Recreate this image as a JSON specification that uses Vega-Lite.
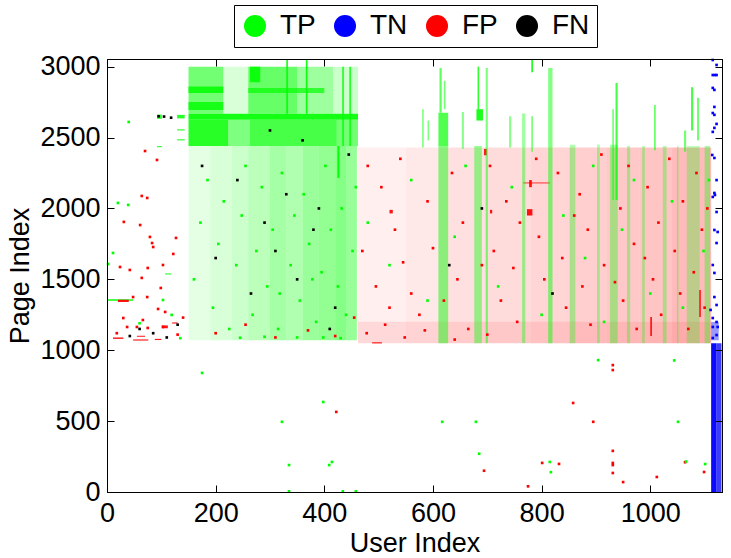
{
  "$schema": "https://vega.github.io/schema/vega-lite/v6.json",
  "width": 615,
  "height": 433,
  "autosize": {"type": "none"},
  "padding": {"left": 107, "top": 59, "right": 9, "bottom": 66},
  "datasets": {
    "cells": [
      {"c": "TP", "u1": 150, "u2": 462, "p1": 2625, "p2": 2668, "d": 0.9},
      {"c": "TP", "u1": 150, "u2": 223, "p1": 2440, "p2": 2625, "d": 0.8},
      {"c": "TP", "u1": 223, "u2": 263, "p1": 2440, "p2": 2625, "d": 0.4},
      {"c": "TP", "u1": 263, "u2": 423, "p1": 2440, "p2": 2625, "d": 0.65},
      {"c": "TP", "u1": 423, "u2": 462, "p1": 2440, "p2": 2625, "d": 0.45},
      {"c": "TP", "u1": 150, "u2": 214, "p1": 2668, "p2": 3000, "d": 0.45},
      {"c": "TP", "u1": 150, "u2": 214, "p1": 2815, "p2": 2860, "d": 0.8},
      {"c": "TP", "u1": 150, "u2": 214, "p1": 2695, "p2": 2750, "d": 0.75},
      {"c": "TP", "u1": 214, "u2": 260, "p1": 2668, "p2": 3000, "d": 0.08},
      {"c": "TP", "u1": 260, "u2": 350, "p1": 2668, "p2": 3000, "d": 0.5},
      {"c": "TP", "u1": 263, "u2": 282, "p1": 2890, "p2": 3000, "d": 0.85},
      {"c": "TP", "u1": 260, "u2": 400, "p1": 2815, "p2": 2850, "d": 0.6},
      {"c": "TP", "u1": 350, "u2": 416, "p1": 2668, "p2": 3000, "d": 0.28},
      {"c": "TP", "u1": 416, "u2": 462, "p1": 2668, "p2": 3000, "d": 0.12},
      {"c": "TP", "u1": 330, "u2": 333, "p1": 2668, "p2": 3054, "d": 0.9},
      {"c": "TP", "u1": 366, "u2": 369, "p1": 2668, "p2": 3054, "d": 0.9},
      {"c": "TP", "u1": 433, "u2": 436, "p1": 2440, "p2": 3000, "d": 0.8},
      {"c": "TP", "u1": 446, "u2": 449, "p1": 2440, "p2": 3000, "d": 0.8},
      {"c": "TP", "u1": 424, "u2": 428, "p1": 2215, "p2": 2440, "d": 0.9},
      {"c": "TP", "u1": 150, "u2": 190, "p1": 1070, "p2": 2440, "d": 0.05},
      {"c": "TP", "u1": 190, "u2": 230, "p1": 1070, "p2": 2440, "d": 0.08},
      {"c": "TP", "u1": 230, "u2": 260, "p1": 1070, "p2": 2440, "d": 0.12},
      {"c": "TP", "u1": 260, "u2": 300, "p1": 1070, "p2": 2440, "d": 0.17},
      {"c": "TP", "u1": 300, "u2": 330, "p1": 1070, "p2": 2440, "d": 0.25},
      {"c": "TP", "u1": 330, "u2": 360, "p1": 1070, "p2": 2440, "d": 0.21},
      {"c": "TP", "u1": 360, "u2": 390, "p1": 1070, "p2": 2440, "d": 0.29},
      {"c": "TP", "u1": 390, "u2": 420, "p1": 1070, "p2": 2440, "d": 0.32},
      {"c": "TP", "u1": 420, "u2": 440, "p1": 1070, "p2": 2440, "d": 0.37},
      {"c": "TP", "u1": 440, "u2": 460, "p1": 1070, "p2": 2440, "d": 0.3},
      {"c": "TP", "u1": 92, "u2": 101, "p1": 2632, "p2": 2662, "d": 0.8},
      {"c": "TP", "u1": 129, "u2": 143, "p1": 2635, "p2": 2660, "d": 0.8},
      {"c": "TP", "u1": 129, "u2": 143, "p1": 2550, "p2": 2558, "d": 0.8},
      {"c": "TP", "u1": 129, "u2": 143, "p1": 2480, "p2": 2488, "d": 0.8},
      {"c": "TP", "u1": 92, "u2": 101, "p1": 2432, "p2": 2440, "d": 0.8},
      {"c": "TP", "u1": 0, "u2": 48, "p1": 1348, "p2": 1360, "d": 0.8},
      {"c": "TP", "u1": 107, "u2": 118, "p1": 1534, "p2": 1542, "d": 0.8},
      {"c": "FP", "u1": 11, "u2": 30, "p1": 1080, "p2": 1090, "d": 0.9},
      {"c": "FP", "u1": 48, "u2": 76, "p1": 1068, "p2": 1076, "d": 0.9},
      {"c": "FP", "u1": 55, "u2": 70, "p1": 1095, "p2": 1102, "d": 0.9},
      {"c": "FP", "u1": 101, "u2": 112, "p1": 1155, "p2": 1175, "d": 0.9},
      {"c": "FP", "u1": 120, "u2": 130, "p1": 1188, "p2": 1196, "d": 0.9},
      {"c": "FP", "u1": 20, "u2": 40, "p1": 1340, "p2": 1356, "d": 0.9},
      {"c": "FP", "u1": 88, "u2": 100, "p1": 1072, "p2": 1080, "d": 0.9},
      {"c": "FP", "u1": 462, "u2": 550, "p1": 1050, "p2": 2430, "d": 0.025},
      {"c": "FP", "u1": 550, "u2": 610, "p1": 1050, "p2": 2430, "d": 0.04},
      {"c": "FP", "u1": 610, "u2": 700, "p1": 1050, "p2": 2430, "d": 0.06},
      {"c": "FP", "u1": 700, "u2": 780, "p1": 1050, "p2": 2430, "d": 0.07},
      {"c": "FP", "u1": 780, "u2": 850, "p1": 1050, "p2": 2430, "d": 0.09},
      {"c": "FP", "u1": 850, "u2": 920, "p1": 1050, "p2": 2430, "d": 0.11},
      {"c": "FP", "u1": 920, "u2": 980, "p1": 1050, "p2": 2430, "d": 0.13},
      {"c": "FP", "u1": 980, "u2": 1040, "p1": 1050, "p2": 2430, "d": 0.14},
      {"c": "FP", "u1": 1040, "u2": 1112, "p1": 1050, "p2": 2430, "d": 0.17},
      {"c": "FP", "u1": 462, "u2": 1112, "p1": 1050, "p2": 1200, "d": 0.04},
      {"c": "FP", "u1": 773, "u2": 783, "p1": 1950, "p2": 1995, "d": 0.9},
      {"c": "FP", "u1": 694, "u2": 699, "p1": 2375, "p2": 2420, "d": 0.9},
      {"c": "FP", "u1": 777, "u2": 782, "p1": 2150, "p2": 2200, "d": 0.9},
      {"c": "FP", "u1": 766, "u2": 815, "p1": 2176, "p2": 2184, "d": 0.6},
      {"c": "FP", "u1": 520, "u2": 526, "p1": 1965, "p2": 1990, "d": 0.9},
      {"c": "FP", "u1": 705, "u2": 709, "p1": 1965, "p2": 1990, "d": 0.9},
      {"c": "FP", "u1": 488, "u2": 506, "p1": 1048, "p2": 1056, "d": 0.9},
      {"c": "FP", "u1": 1090, "u2": 1093, "p1": 1235, "p2": 1425, "d": 0.9},
      {"c": "FP", "u1": 1000, "u2": 1003, "p1": 1100, "p2": 1235, "d": 0.9},
      {"c": "TP", "u1": 610, "u2": 628, "p1": 1050, "p2": 2440, "d": 0.35},
      {"c": "TP", "u1": 610, "u2": 628, "p1": 2440, "p2": 2675, "d": 0.6},
      {"c": "TP", "u1": 612, "u2": 616, "p1": 2675, "p2": 2990, "d": 0.55},
      {"c": "TP", "u1": 620, "u2": 623, "p1": 2700, "p2": 2900, "d": 0.45},
      {"c": "TP", "u1": 676, "u2": 690, "p1": 1050, "p2": 2440, "d": 0.3},
      {"c": "TP", "u1": 680, "u2": 692, "p1": 2620, "p2": 2700, "d": 0.85},
      {"c": "TP", "u1": 682, "u2": 685, "p1": 2700, "p2": 3000, "d": 0.75},
      {"c": "TP", "u1": 697, "u2": 701, "p1": 1050, "p2": 2990, "d": 0.4},
      {"c": "TP", "u1": 764, "u2": 770, "p1": 1050, "p2": 2670, "d": 0.28},
      {"c": "TP", "u1": 781, "u2": 784, "p1": 2960, "p2": 3050, "d": 0.9},
      {"c": "TP", "u1": 781, "u2": 784, "p1": 2400, "p2": 2650, "d": 0.45},
      {"c": "TP", "u1": 812, "u2": 820, "p1": 1050, "p2": 2990, "d": 0.38},
      {"c": "TP", "u1": 852, "u2": 862, "p1": 1050, "p2": 2450, "d": 0.22},
      {"c": "TP", "u1": 902, "u2": 907, "p1": 1050, "p2": 2450, "d": 0.22},
      {"c": "TP", "u1": 926, "u2": 940, "p1": 1050, "p2": 2450, "d": 0.24},
      {"c": "TP", "u1": 936, "u2": 940, "p1": 2060, "p2": 2885, "d": 0.65},
      {"c": "TP", "u1": 930, "u2": 933, "p1": 2060, "p2": 2700, "d": 0.45},
      {"c": "TP", "u1": 957, "u2": 963, "p1": 1050, "p2": 2440, "d": 0.2},
      {"c": "TP", "u1": 985, "u2": 990, "p1": 1050, "p2": 2440, "d": 0.2},
      {"c": "TP", "u1": 1023, "u2": 1030, "p1": 1050, "p2": 2440, "d": 0.2},
      {"c": "TP", "u1": 1049, "u2": 1052, "p1": 1050, "p2": 2440, "d": 0.2},
      {"c": "TP", "u1": 1067, "u2": 1091, "p1": 1050, "p2": 2440, "d": 0.16},
      {"c": "TP", "u1": 1100, "u2": 1110, "p1": 1050, "p2": 2440, "d": 0.24},
      {"c": "TP", "u1": 1007, "u2": 1010, "p1": 2410, "p2": 2730, "d": 0.55},
      {"c": "TP", "u1": 1075, "u2": 1079, "p1": 2550, "p2": 2855, "d": 0.65},
      {"c": "TP", "u1": 1062, "u2": 1066, "p1": 2400, "p2": 2550, "d": 0.45},
      {"c": "TP", "u1": 1086, "u2": 1090, "p1": 2480, "p2": 2780, "d": 0.45},
      {"c": "TP", "u1": 580, "u2": 583, "p1": 2430, "p2": 2700, "d": 0.4},
      {"c": "TP", "u1": 590, "u2": 593, "p1": 2480, "p2": 2620, "d": 0.4},
      {"c": "TP", "u1": 653, "u2": 657, "p1": 2420, "p2": 2680, "d": 0.35},
      {"c": "TP", "u1": 740, "u2": 744, "p1": 2430, "p2": 2650, "d": 0.35},
      {"c": "TN", "u1": 1112, "u2": 1122, "p1": 0, "p2": 1050, "d": 0.95},
      {"c": "TN", "u1": 1122, "u2": 1131, "p1": 0, "p2": 1050, "d": 0.7},
      {"c": "TN", "u1": 1112, "u2": 1126, "p1": 1070, "p2": 1200, "d": 0.3}
    ],
    "dots": [
      {"c": "TP", "u": 175, "p": 840}, {"c": "TP", "u": 398, "p": 635}, {"c": "FP", "u": 422, "p": 565},
      {"c": "TP", "u": 322, "p": 495}, {"c": "TP", "u": 617, "p": 495}, {"c": "TP", "u": 679, "p": 495},
      {"c": "TP", "u": 685, "p": 270}, {"c": "FP", "u": 694, "p": 150}, {"c": "TP", "u": 335, "p": 190},
      {"c": "TP", "u": 409, "p": 190}, {"c": "TP", "u": 414, "p": 212}, {"c": "TP", "u": 335, "p": 5},
      {"c": "TP", "u": 434, "p": 5}, {"c": "TP", "u": 458, "p": 5}, {"c": "FP", "u": 775, "p": 40},
      {"c": "FP", "u": 801, "p": 205}, {"c": "TP", "u": 815, "p": 212}, {"c": "TP", "u": 817, "p": 140},
      {"c": "FP", "u": 832, "p": 198}, {"c": "FP", "u": 858, "p": 628}, {"c": "FP", "u": 895, "p": 495},
      {"c": "TP", "u": 904, "p": 930}, {"c": "FP", "u": 931, "p": 895}, {"c": "FP", "u": 931, "p": 860},
      {"c": "FP", "u": 931, "p": 290}, {"c": "FP", "u": 931, "p": 205}, {"c": "FP", "u": 931, "p": 190},
      {"c": "FP", "u": 931, "p": 134}, {"c": "TP", "u": 1044, "p": 928}, {"c": "TP", "u": 1051, "p": 495},
      {"c": "FP", "u": 950, "p": 70}, {"c": "FP", "u": 1012, "p": 106}, {"c": "FP", "u": 1064, "p": 210},
      {"c": "TP", "u": 1066, "p": 215}, {"c": "TP", "u": 1101, "p": 197}, {"c": "FP", "u": 1099, "p": 141},
      {"c": "TN", "u": 1115, "p": 3047}, {"c": "TN", "u": 1122, "p": 3012}, {"c": "TN", "u": 1115, "p": 2941},
      {"c": "TN", "u": 1119, "p": 2941}, {"c": "TN", "u": 1122, "p": 2941}, {"c": "TN", "u": 1115, "p": 2850},
      {"c": "TN", "u": 1118, "p": 2836}, {"c": "TN", "u": 1118, "p": 2716}, {"c": "TN", "u": 1115, "p": 2673},
      {"c": "TN", "u": 1118, "p": 2660}, {"c": "TN", "u": 1122, "p": 2596}, {"c": "TN", "u": 1118, "p": 2568},
      {"c": "TN", "u": 1115, "p": 2540}, {"c": "TN", "u": 1114, "p": 2377}, {"c": "TN", "u": 1118, "p": 2356},
      {"c": "TN", "u": 1122, "p": 2200}, {"c": "TN", "u": 1118, "p": 2109}, {"c": "TN", "u": 1115, "p": 2081},
      {"c": "TN", "u": 1119, "p": 2095}, {"c": "TN", "u": 1122, "p": 1975}, {"c": "TN", "u": 1118, "p": 1848},
      {"c": "TN", "u": 1124, "p": 1834}, {"c": "TN", "u": 1122, "p": 1756}, {"c": "TN", "u": 1115, "p": 1601},
      {"c": "TN", "u": 1118, "p": 1545}, {"c": "TN", "u": 1118, "p": 1375}, {"c": "TN", "u": 1122, "p": 1319},
      {"c": "TN", "u": 1115, "p": 1227}, {"c": "TN", "u": 1122, "p": 1199}, {"c": "TN", "u": 1115, "p": 1164},
      {"c": "TN", "u": 1124, "p": 1164}, {"c": "TN", "u": 1122, "p": 1107}, {"c": "TN", "u": 1115, "p": 1086},
      {"c": "TN", "u": 1111, "p": 1284},
      {"c": "TP", "u": 40, "p": 2610}, {"c": "FP", "u": 70, "p": 2405}, {"c": "FP", "u": 92, "p": 2342},
      {"c": "FP", "u": 64, "p": 2088}, {"c": "FP", "u": 74, "p": 2074}, {"c": "TP", "u": 20, "p": 2039},
      {"c": "TP", "u": 39, "p": 2025}, {"c": "FP", "u": 31, "p": 1905}, {"c": "FP", "u": 61, "p": 1883},
      {"c": "FP", "u": 79, "p": 1799}, {"c": "FP", "u": 127, "p": 1792}, {"c": "FP", "u": 83, "p": 1756},
      {"c": "FP", "u": 85, "p": 1728}, {"c": "FP", "u": 122, "p": 1679}, {"c": "TP", "u": 11, "p": 1686},
      {"c": "FP", "u": 24, "p": 1587}, {"c": "FP", "u": 42, "p": 1566}, {"c": "FP", "u": 75, "p": 1580},
      {"c": "FP", "u": 64, "p": 1510}, {"c": "FP", "u": 103, "p": 1601}, {"c": "FP", "u": 99, "p": 1439},
      {"c": "TP", "u": 2, "p": 1608}, {"c": "FP", "u": 48, "p": 1375}, {"c": "FP", "u": 74, "p": 1375},
      {"c": "TP", "u": 103, "p": 1354}, {"c": "FP", "u": 94, "p": 1291}, {"c": "FP", "u": 107, "p": 1270},
      {"c": "TP", "u": 119, "p": 1249}, {"c": "FP", "u": 30, "p": 1227}, {"c": "FP", "u": 66, "p": 1213},
      {"c": "FP", "u": 37, "p": 1164}, {"c": "FP", "u": 55, "p": 1164}, {"c": "FP", "u": 75, "p": 1157},
      {"c": "FP", "u": 103, "p": 1164}, {"c": "FP", "u": 18, "p": 1120}, {"c": "FP", "u": 130, "p": 1110},
      {"c": "FP", "u": 140, "p": 1230}, {"c": "TP", "u": 60, "p": 1190}, {"c": "TP", "u": 135, "p": 1085},
      {"c": "FP", "u": 480, "p": 2300}, {"c": "FP", "u": 505, "p": 2150}, {"c": "FP", "u": 530, "p": 1850},
      {"c": "FP", "u": 545, "p": 1620}, {"c": "FP", "u": 560, "p": 1400}, {"c": "FP", "u": 575, "p": 1250},
      {"c": "FP", "u": 590, "p": 2050}, {"c": "FP", "u": 600, "p": 1720}, {"c": "FP", "u": 635, "p": 2250},
      {"c": "FP", "u": 645, "p": 1500}, {"c": "FP", "u": 655, "p": 1900}, {"c": "FP", "u": 665, "p": 1150},
      {"c": "FP", "u": 705, "p": 2300}, {"c": "FP", "u": 712, "p": 1700}, {"c": "FP", "u": 725, "p": 1350},
      {"c": "FP", "u": 735, "p": 2050}, {"c": "FP", "u": 748, "p": 1580}, {"c": "FP", "u": 755, "p": 1200},
      {"c": "FP", "u": 790, "p": 2350}, {"c": "FP", "u": 795, "p": 1800}, {"c": "FP", "u": 805, "p": 1500},
      {"c": "FP", "u": 830, "p": 2250}, {"c": "FP", "u": 838, "p": 1650}, {"c": "FP", "u": 845, "p": 1300},
      {"c": "FP", "u": 870, "p": 2100}, {"c": "FP", "u": 875, "p": 1450}, {"c": "FP", "u": 885, "p": 1850},
      {"c": "FP", "u": 890, "p": 1180}, {"c": "FP", "u": 910, "p": 2380}, {"c": "FP", "u": 915, "p": 1600},
      {"c": "FP", "u": 945, "p": 2000}, {"c": "FP", "u": 950, "p": 1350}, {"c": "FP", "u": 960, "p": 2300},
      {"c": "FP", "u": 970, "p": 1750}, {"c": "FP", "u": 975, "p": 1150}, {"c": "FP", "u": 995, "p": 2150},
      {"c": "FP", "u": 1005, "p": 1500}, {"c": "FP", "u": 1015, "p": 1900}, {"c": "FP", "u": 1020, "p": 1250},
      {"c": "FP", "u": 1035, "p": 2350}, {"c": "FP", "u": 1045, "p": 1700}, {"c": "FP", "u": 1055, "p": 1400},
      {"c": "FP", "u": 1060, "p": 2050}, {"c": "FP", "u": 1080, "p": 1550}, {"c": "FP", "u": 1085, "p": 2250},
      {"c": "FP", "u": 1095, "p": 1850}, {"c": "FP", "u": 1100, "p": 1300}, {"c": "FP", "u": 1105, "p": 2000},
      {"c": "FP", "u": 470, "p": 1700}, {"c": "FP", "u": 495, "p": 1450}, {"c": "FP", "u": 520, "p": 1300},
      {"c": "FP", "u": 540, "p": 2350}, {"c": "FP", "u": 620, "p": 1350}, {"c": "FP", "u": 690, "p": 1600},
      {"c": "FP", "u": 760, "p": 1900}, {"c": "FP", "u": 860, "p": 1950}, {"c": "FP", "u": 935, "p": 1480},
      {"c": "FP", "u": 990, "p": 1650}, {"c": "FP", "u": 1070, "p": 1150},
      {"c": "FP", "u": 478, "p": 1120}, {"c": "FP", "u": 512, "p": 1180}, {"c": "FP", "u": 548, "p": 1090},
      {"c": "FP", "u": 585, "p": 1140}, {"c": "FP", "u": 640, "p": 1075}, {"c": "FP", "u": 700, "p": 1110},
      {"c": "FP", "u": 200, "p": 1120}, {"c": "FP", "u": 255, "p": 1180}, {"c": "FP", "u": 310, "p": 1090},
      {"c": "FP", "u": 370, "p": 1140}, {"c": "FP", "u": 420, "p": 1100}, {"c": "FP", "u": 455, "p": 1230},
      {"c": "TP", "u": 160, "p": 1500}, {"c": "TP", "u": 172, "p": 1900}, {"c": "TP", "u": 185, "p": 2200},
      {"c": "TP", "u": 195, "p": 1300}, {"c": "TP", "u": 205, "p": 1750}, {"c": "TP", "u": 215, "p": 2050},
      {"c": "TP", "u": 225, "p": 1150}, {"c": "TP", "u": 238, "p": 1600}, {"c": "TP", "u": 248, "p": 1950},
      {"c": "TP", "u": 255, "p": 2300}, {"c": "TP", "u": 268, "p": 1250}, {"c": "TP", "u": 275, "p": 1700},
      {"c": "TP", "u": 285, "p": 2150}, {"c": "TP", "u": 295, "p": 1450}, {"c": "TP", "u": 305, "p": 1850},
      {"c": "TP", "u": 315, "p": 1150}, {"c": "TP", "u": 322, "p": 2250}, {"c": "TP", "u": 338, "p": 1600},
      {"c": "TP", "u": 345, "p": 1950}, {"c": "TP", "u": 355, "p": 1350}, {"c": "TP", "u": 362, "p": 2100},
      {"c": "TP", "u": 372, "p": 1750}, {"c": "TP", "u": 385, "p": 1200}, {"c": "TP", "u": 395, "p": 1550},
      {"c": "TP", "u": 402, "p": 2300}, {"c": "TP", "u": 412, "p": 1850}, {"c": "TP", "u": 425, "p": 1450},
      {"c": "TP", "u": 432, "p": 2000}, {"c": "TP", "u": 440, "p": 1250}, {"c": "TP", "u": 452, "p": 1700},
      {"c": "TP", "u": 458, "p": 2150}, {"c": "TP", "u": 318, "p": 1400}, {"c": "TP", "u": 378, "p": 1500},
      {"c": "TP", "u": 398, "p": 1090}, {"c": "TP", "u": 350, "p": 1090}, {"c": "TP", "u": 290, "p": 1095},
      {"c": "TP", "u": 245, "p": 1088}, {"c": "TP", "u": 430, "p": 1085},
      {"c": "TP", "u": 480, "p": 1900}, {"c": "TP", "u": 520, "p": 1600}, {"c": "TP", "u": 560, "p": 2200},
      {"c": "TP", "u": 590, "p": 1350}, {"c": "TP", "u": 640, "p": 1800}, {"c": "TP", "u": 660, "p": 2300},
      {"c": "TP", "u": 720, "p": 1450}, {"c": "TP", "u": 745, "p": 2150}, {"c": "TP", "u": 800, "p": 1250},
      {"c": "TP", "u": 840, "p": 1950}, {"c": "TP", "u": 880, "p": 1650}, {"c": "TP", "u": 895, "p": 2300},
      {"c": "TP", "u": 915, "p": 1200}, {"c": "TP", "u": 948, "p": 1850}, {"c": "TP", "u": 970, "p": 2200},
      {"c": "TP", "u": 1000, "p": 1400}, {"c": "TP", "u": 1040, "p": 2050}, {"c": "TP", "u": 1060, "p": 1300},
      {"c": "TP", "u": 1098, "p": 1700}, {"c": "TP", "u": 1108, "p": 2200},
      {"c": "FN", "u": 42, "p": 1100}, {"c": "FN", "u": 60, "p": 1150}, {"c": "FN", "u": 85, "p": 1120},
      {"c": "FN", "u": 110, "p": 1090}, {"c": "FN", "u": 130, "p": 1180}, {"c": "FN", "u": 95, "p": 2650},
      {"c": "FN", "u": 105, "p": 2648}, {"c": "FN", "u": 118, "p": 2640}, {"c": "FN", "u": 175, "p": 2300},
      {"c": "FN", "u": 240, "p": 2200}, {"c": "FN", "u": 290, "p": 1900}, {"c": "FN", "u": 310, "p": 1700},
      {"c": "FN", "u": 350, "p": 1500}, {"c": "FN", "u": 390, "p": 2000}, {"c": "FN", "u": 420, "p": 1300},
      {"c": "FN", "u": 265, "p": 1400}, {"c": "FN", "u": 200, "p": 1650}, {"c": "FN", "u": 330, "p": 2100},
      {"c": "FN", "u": 410, "p": 1150}, {"c": "FN", "u": 380, "p": 1850}, {"c": "FN", "u": 630, "p": 1600},
      {"c": "FN", "u": 690, "p": 2000}, {"c": "FN", "u": 820, "p": 1400}, {"c": "FN", "u": 445, "p": 2380},
      {"c": "FN", "u": 300, "p": 2550}, {"c": "FN", "u": 360, "p": 2480}
    ]
  },
  "resolve": {"axis": {"x": "independent", "y": "independent"}},
  "layer": [
    {
      "data": {"name": "cells"},
      "mark": {"type": "rect", "strokeWidth": 0},
      "encoding": {
        "x": {
          "field": "u1",
          "type": "quantitative",
          "scale": {"domain": [0, 1132], "nice": false, "zero": false},
          "axis": {
            "values": [0, 200, 400, 600, 800, 1000],
            "format": "d",
            "title": "User Index",
            "ticks": false,
            "labelPadding": 8,
            "titlePadding": 4
          }
        },
        "x2": {"field": "u2"},
        "y": {
          "field": "p1",
          "type": "quantitative",
          "scale": {"domain": [0, 3054], "nice": false, "zero": false},
          "axis": {
            "values": [0, 500, 1000, 1500, 2000, 2500, 3000],
            "format": "d",
            "title": "Page Index",
            "ticks": false,
            "labelPadding": 7,
            "titlePadding": 5
          }
        },
        "y2": {"field": "p2"},
        "color": {
          "field": "c",
          "type": "nominal",
          "scale": {
            "domain": ["TP", "TN", "FP", "FN"],
            "range": ["#00ff00", "#0000ff", "#ff0000", "#000000"]
          },
          "legend": {"orient": "none", "legendX": 127, "legendY": -54, "direction": "horizontal", "title": null}
        },
        "opacity": {
          "field": "d",
          "type": "quantitative",
          "scale": {"type": "pow", "exponent": 0.75, "domain": [0, 1], "range": [0, 1]},
          "legend": null
        }
      }
    },
    {
      "data": {"name": "dots"},
      "mark": {"type": "square", "size": 7, "opacity": 1},
      "encoding": {
        "x": {"field": "u", "type": "quantitative", "axis": null},
        "y": {"field": "p", "type": "quantitative", "axis": null},
        "color": {
          "field": "c",
          "type": "nominal",
          "legend": {"orient": "none", "legendX": 127, "legendY": -54, "direction": "horizontal", "title": null}
        }
      }
    },
    {
      "data": {"name": "dots"},
      "mark": {"type": "point", "opacity": 0},
      "encoding": {
        "x": {
          "field": "u",
          "type": "quantitative",
          "axis": {"orient": "top", "values": [0, 200, 400, 600, 800, 1000], "labels": false, "title": null, "tickSize": -7, "zindex": 2}
        },
        "y": {
          "field": "p",
          "type": "quantitative",
          "axis": {"orient": "right", "values": [0, 500, 1000, 1500, 2000, 2500, 3000], "labels": false, "title": null, "tickSize": -7, "zindex": 2}
        }
      }
    },
    {
      "data": {"name": "dots"},
      "mark": {"type": "point", "opacity": 0},
      "encoding": {
        "x": {
          "field": "u",
          "type": "quantitative",
          "axis": {"orient": "bottom", "values": [0, 200, 400, 600, 800, 1000], "labels": false, "title": null, "tickSize": -7, "zindex": 2}
        },
        "y": {
          "field": "p",
          "type": "quantitative",
          "axis": {"orient": "left", "values": [0, 500, 1000, 1500, 2000, 2500, 3000], "labels": false, "title": null, "tickSize": -7, "zindex": 2}
        }
      }
    }
  ],
  "config": {
    "view": {"stroke": "black", "strokeWidth": 1},
    "font": "Liberation Sans",
    "axis": {
      "grid": false,
      "tickWidth": 1,
      "domainColor": "black",
      "tickColor": "black",
      "labelColor": "black",
      "titleColor": "black",
      "labelFont": "Liberation Sans",
      "titleFont": "Liberation Sans",
      "labelFontSize": 27,
      "titleFontSize": 27,
      "titleFontWeight": "normal",
      "labelFlush": false,
      "labelOverlap": false
    },
    "legend": {
      "symbolType": "circle",
      "symbolSize": 484,
      "symbolOpacity": 1,
      "symbolStrokeWidth": 0,
      "labelFont": "Liberation Sans",
      "labelFontSize": 28,
      "labelColor": "black",
      "labelOffset": 11,
      "columnPadding": 15,
      "padding": 7,
      "strokeColor": "black",
      "strokeWidth": 1,
      "fillColor": "white",
      "cornerRadius": 0
    }
  }
}
